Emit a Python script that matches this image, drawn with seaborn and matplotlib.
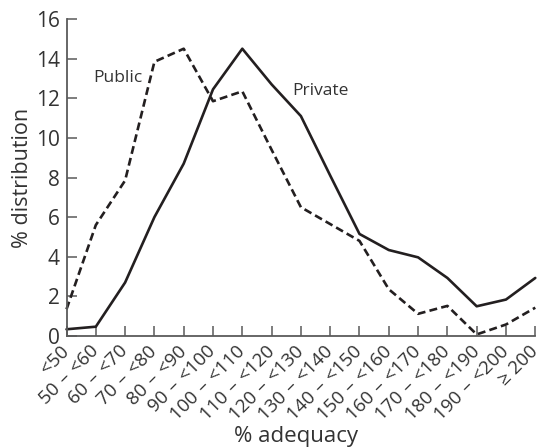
import numpy as np
import pandas as pd
import matplotlib
matplotlib.use("Agg")
import matplotlib.pyplot as plt
import seaborn as sns

# Adequacy bands (% of requirement met)
categories = ["<50", "50\u2004–\u2004<60", "60\u2004–\u2004<70", "70\u2004–\u2004<80",
              "80\u2004–\u2004<90", "90\u2004–\u2004<100", "100\u2004–\u2004<110",
              "110\u2004–\u2004<120", "120\u2004–\u2004<130", "130\u2004–\u2004<140",
              "140\u2004–\u2004<150", "150\u2004–\u2004<160", "160\u2004–\u2004<170",
              "170\u2004–\u2004<180", "180\u2004–\u2004<190", "190\u2004–\u2004<200",
              "≥ 200"]

# % distribution of households in each band
private = [0.34, 0.47, 2.7, 6.0, 8.7, 12.45, 14.5, 12.7, 11.1, 8.1, 5.15,
           4.34, 3.97, 2.93, 1.5, 1.84, 2.93]
public = [1.35, 5.6, 7.85, 13.84, 14.5, 11.85, 12.35, 9.4, 6.5, 5.65, 4.8,
          2.36, 1.12, 1.52, 0.08, 0.58, 1.43]

y_ticks = [0, 2, 4, 6, 8, 10, 12, 14, 16]

sns.set_theme(style="ticks")
plt.rcParams["font.family"] = ["Open Sans", "DejaVu Sans"]

pos = np.arange(len(categories))
df = pd.DataFrame({"pos": np.concatenate([pos, pos]),
                   "value": private + public,
                   "sector": ["Private"] * len(pos) + ["Public"] * len(pos)})

line_col = "#231f20"
text_col = "#333333"
axis_col = "#5a5a5a"

fig = plt.figure(figsize=(5.39, 4.47), dpi=100)
ax = fig.add_axes([0.1234, 0.2483, 0.8697, 0.7092])

sns.lineplot(data=df[df.sector == "Private"], x="pos", y="value", ax=ax,
             color=line_col, linewidth=1.9, legend=False, clip_on=False)
sns.lineplot(data=df[df.sector == "Public"], x="pos", y="value", ax=ax,
             color=line_col, linewidth=1.9, legend=False, clip_on=False,
             dashes=False)
ax.lines[-1].set_dashes([3, 1.6])

ax.set_xlim(0, len(categories) - 1)
ax.set_ylim(0, 16)
ax.set_yticks(y_ticks)
ax.set_yticklabels([str(t) for t in y_ticks], fontsize=15, color=text_col)
ax.set_xticks(pos)
ax.set_xticklabels(categories, rotation=45, ha="right", va="center",
                   rotation_mode="anchor", fontsize=13.5, color=text_col)

ax.tick_params(axis="x", direction="in", length=7, width=1.1, color=axis_col, pad=9)
ax.tick_params(axis="y", direction="in", length=7, width=1.1, color=axis_col, pad=5)

sns.despine(ax=ax)
for side in ("left", "bottom"):
    ax.spines[side].set_color(axis_col)
    ax.spines[side].set_linewidth(1.3)

ax.set_xlabel("% adequacy", fontsize=16, color=text_col, va="center")
ax.xaxis.set_label_coords(0.49, -0.318)
ax.set_ylabel("% distribution", fontsize=15.5, color=text_col, labelpad=2)

ax.text(1.76, 13.0, "Public", fontsize=12.5, color=text_col, ha="center", va="center")
ax.text(8.65, 12.35, "Private", fontsize=12.5, color=text_col, ha="center", va="center")

fig.savefig("out.png", dpi=100)
